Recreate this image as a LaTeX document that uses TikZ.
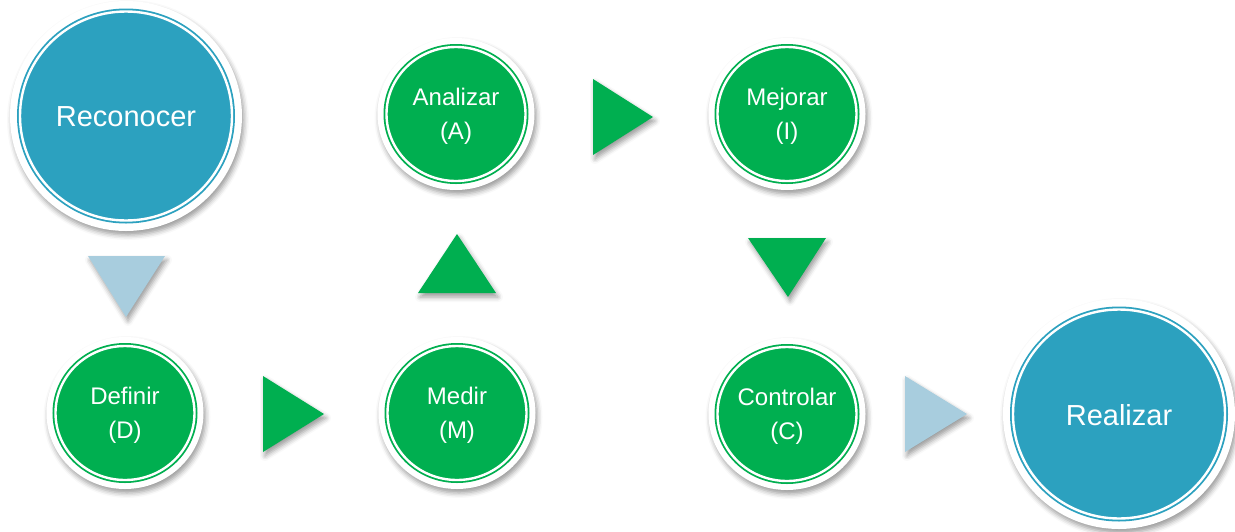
\documentclass[tikz,border=0pt]{standalone}
\usepackage{fontspec}
\setmainfont{Liberation Sans}
\usetikzlibrary{shadows.blur,shapes.geometric}
\definecolor{sgreen}{HTML}{00AF50}
\definecolor{sblue}{HTML}{2CA1BF}
\definecolor{lblue}{HTML}{A8CDDE}
\tikzset{
  shad/.style={blur shadow={shadow xshift=2pt, shadow yshift=-4pt, shadow blur radius=5pt, shadow opacity=40}},
  halo/.style 2 args={ellipse, fill=white, draw=none, inner sep=0pt, minimum width=#1, minimum height=#2, shad},
  ring/.style={ellipse, inner sep=0pt, line width=1.8pt, double distance=2.4pt, double=white},
  txt/.style={text=white, align=center, yshift=-2.5pt},
  greenc/.style={ring, draw=sgreen, fill=sgreen, minimum width=139pt, minimum height=134pt,
     label={[txt, font=\fontsize{24}{34}\selectfont]center:#1}},
  bluec/.style={ring, draw=sblue, fill=sblue, minimum width=212pt, minimum height=209pt,
     label={[txt, yshift=1.5pt, font=\fontsize{29}{34}\selectfont]center:#1}},
  gtri/.style={fill=sgreen, shad},
  btri/.style={fill=lblue, shad},
}
\begin{document}
\begin{tikzpicture}[x=1pt, y=-1pt]
\useasboundingbox (0,0) rectangle (1235,531);
% halos
\node[halo={232pt}{230pt}] (recH) at (126,116) {};
\node[halo={232pt}{230pt}] (reaH) at (1119,414) {};
\node[halo={157pt}{152pt}] (defH) at (125,413) {};
\node[halo={157pt}{152pt}] (medH) at (457,413) {};
\node[halo={157pt}{152pt}] (anaH) at (456,114) {};
\node[halo={157pt}{152pt}] (mejH) at (787,114) {};
\node[halo={157pt}{152pt}] (conH) at (787,414) {};
% circles
\node[bluec={Reconocer}] (rec) at (recH) {};
\node[bluec={Realizar}] (rea) at (reaH) {};
\node[greenc={Definir\\(D)}] (def) at (defH) {};
\node[greenc={Medir\\(M)}] (med) at (medH) {};
\node[greenc={Analizar\\(A)}] (ana) at (anaH) {};
\node[greenc={Mejorar\\(I)}] (mej) at (mejH) {};
\node[greenc={Controlar\\(C)}] (con) at (conH) {};
% triangle arrows
\fill[btri] (88,256) -- (165,256) -- (126,317) -- cycle;
\fill[gtri] (263,376) -- (263,452) -- (324,414) -- cycle;
\fill[gtri] (418,293) -- (496,293) -- (457,234) -- cycle;
\fill[gtri] (593,79) -- (593,155) -- (653,117) -- cycle;
\fill[gtri] (748,238) -- (826,238) -- (788,297) -- cycle;
\fill[btri] (905,376) -- (905,452) -- (967,414) -- cycle;
\end{tikzpicture}
\end{document}
